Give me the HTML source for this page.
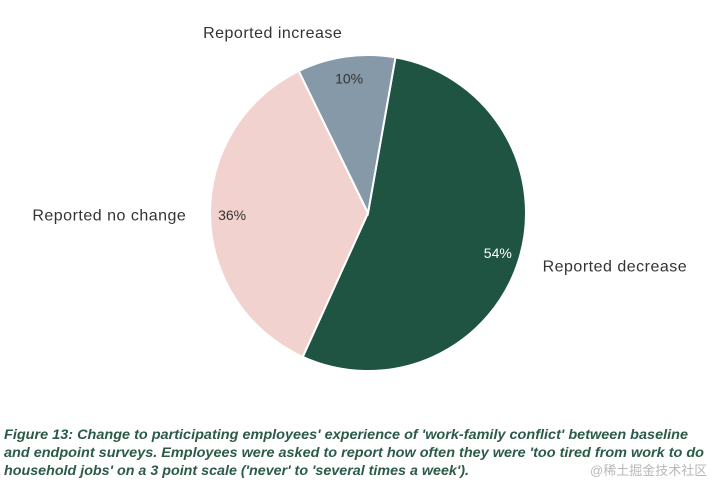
<!DOCTYPE html>
<html><head><meta charset="utf-8"><style>
html,body{margin:0;padding:0;background:#fff;width:720px;height:497px;overflow:hidden}
svg{display:block}
</style></head><body>
<svg id="chart" width="720" height="497" viewBox="0 0 720 497" xmlns="http://www.w3.org/2000/svg" font-family="Liberation Sans, sans-serif">
<g id="slices"></g>
<g id="labels"></g>
<g fill="#2b5b47" font-style="italic" font-weight="bold" font-size="14">
<text x="4" y="439" textLength="684" lengthAdjust="spacingAndGlyphs">Figure 13: Change to participating employees' experience of 'work-family conflict' between baseline</text>
<text x="4" y="457" textLength="700" lengthAdjust="spacingAndGlyphs">and endpoint surveys. Employees were asked to report how often they were 'too tired from work to do</text>
<text x="4" y="475" textLength="465" lengthAdjust="spacingAndGlyphs">household jobs' on a 3 point scale ('never' to 'several times a week').</text>
</g>
<text x="590" y="475" font-size="13" fill="#b8b8b8" font-family="Liberation Sans, Noto Sans CJK SC, sans-serif">@稀土掘金技术社区</text>
</svg>
<script>
const categories = ["Reported decrease", "Reported no change", "Reported increase"];
const values = [54, 36, 10];
const colors = ["#1f5443", "#f2d2cf", "#8599a8"];
const valueTextColors = ["#ffffff", "#333333", "#333333"];
const cx = 368, cy = 213, r = 158, startDeg = 10;
const NS = "http://www.w3.org/2000/svg";
const slices = document.getElementById('slices');
const labels = document.getElementById('labels');
const total = values.reduce((a, b) => a + b, 0);
function pt(deg, rad) { const a = (deg - 90) * Math.PI / 180; return [cx + rad * Math.cos(a), cy + rad * Math.sin(a)]; }
let ang = startDeg;
values.forEach((v, i) => {
  const sweep = v / total * 360;
  const p1 = pt(ang, r), p2 = pt(ang + sweep, r);
  const path = document.createElementNS(NS, 'path');
  path.setAttribute('d', `M${cx},${cy} L${p1[0]},${p1[1]} A${r},${r} 0 ${sweep > 180 ? 1 : 0} 1 ${p2[0]},${p2[1]} Z`);
  path.setAttribute('fill', colors[i]);
  path.setAttribute('stroke', '#fff');
  path.setAttribute('stroke-width', '2');
  
  
  slices.appendChild(path);
  const mid = ang + sweep / 2;
  const vp = pt(mid, r * 0.86);
  const t = document.createElementNS(NS, 'text');
  t.setAttribute('x', vp[0]); t.setAttribute('y', vp[1] + 5);
  t.setAttribute('text-anchor', 'middle');
  t.setAttribute('font-size', '14');
  t.setAttribute('fill', valueTextColors[i]);
  t.textContent = v + '%';
  
  
  labels.appendChild(t);
  const op = pt(mid, r * 1.15);
  const c = document.createElementNS(NS, 'text');
  const right = op[0] > cx + 5, left = op[0] < cx - 5 && Math.abs(op[1] - cy) < r * 0.6;
  c.setAttribute('x', right ? op[0] + 1 : (left ? op[0] : op[0] - 70));
  c.setAttribute('y', op[1] + 5);
  c.setAttribute('text-anchor', right ? 'start' : (left ? 'end' : 'middle'));
  c.setAttribute('font-size', '16');
  c.setAttribute('fill', '#333');
  c.setAttribute('letter-spacing', '0.5');
  c.textContent = categories[i];
  
  
  labels.appendChild(c);
  ang += sweep;
});
</script>
</body></html>
